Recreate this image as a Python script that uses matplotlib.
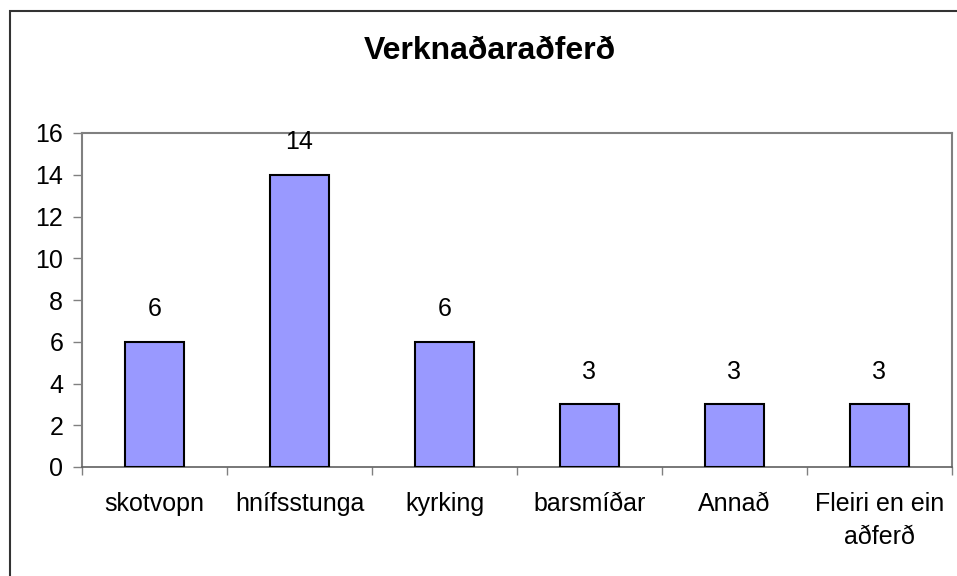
import matplotlib
matplotlib.use("Agg")
import matplotlib.pyplot as plt
from matplotlib.patches import Rectangle

categories = ["skotvopn", "hnífsstunga", "kyrking", "barsmíðar", "Annað", "Fleiri en ein\naðferð"]
values = [6, 14, 6, 3, 3, 3]
yticks = [0, 2, 4, 6, 8, 10, 12, 14, 16]
title = "Verknaðaraðferð"

plt.rcParams['font.family'] = ['Liberation Sans', 'DejaVu Sans']

fig = plt.figure(figsize=(9.57, 5.76), dpi=100)
ax = fig.add_axes([82/957, 1-467/576, (952-82)/957, (467-133)/576])

x = list(range(len(categories)))
bars = ax.bar(x, values, width=0.41, color='#9999FF', edgecolor='black', linewidth=1.5, zorder=3)
for xi, v in zip(x, values):
    ax.annotate(str(v), (xi, v), xytext=(0, 15), textcoords='offset points',
                ha='center', va='bottom', fontsize=18)

ax.set_xlim(-0.5, len(categories) - 0.5)
ax.set_ylim(0, 16)
ax.set_yticks(yticks)
ax.set_yticklabels([str(t) for t in yticks], fontsize=18)
ax.tick_params(axis='y', direction='out', length=6.5, width=1, color='#808080', pad=7)

ax.set_xticks([i + 0.5 for i in range(-1, len(categories))])
ax.set_xticklabels([])
ax.set_xticks(x, minor=True)
ax.set_xticklabels(categories, minor=True, fontsize=18, linespacing=1.5)
ax.tick_params(axis='x', which='major', direction='out', length=6, width=1, color='#808080')
ax.tick_params(axis='x', which='minor', length=0, pad=18)

for s in ['top', 'right', 'left']:
    ax.spines[s].set_color('#808080')
    ax.spines[s].set_linewidth(1.5)
ax.spines['bottom'].set_color('#606060')
ax.spines['bottom'].set_linewidth(1.2)

fig.text(490/957, 1-51/576, title, ha='center', va='center', fontsize=23, fontweight='bold')

frame = Rectangle((10/957, -0.1), 1.2, 1 - 11/576 + 0.1, transform=fig.transFigure,
                  fill=False, edgecolor='#333333', linewidth=1.5)
fig.patches.append(frame)

fig.savefig("out.png", dpi=100)
